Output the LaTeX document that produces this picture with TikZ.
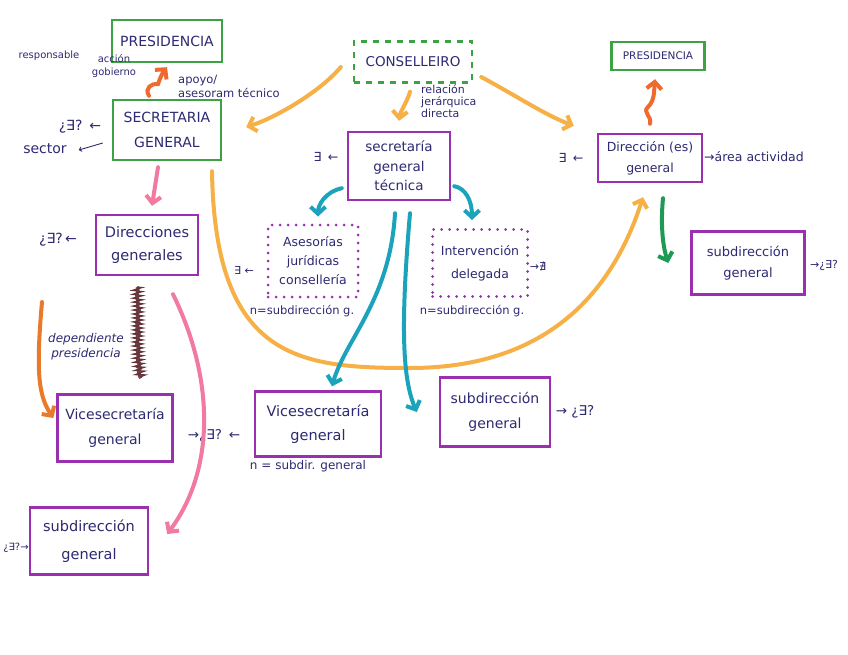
\documentclass[tikz,border=0pt]{standalone}
\usepackage{fontspec}
\setmainfont{DejaVu Sans}
\usetikzlibrary{arrows.meta,decorations.pathmorphing}
\definecolor{ink}{HTML}{2E2A72}
\definecolor{purp}{HTML}{9A2FB0}
\definecolor{grn}{HTML}{3DA244}
\definecolor{orng}{HTML}{F6B045}
\definecolor{redor}{HTML}{EE6A2E}
\definecolor{dorng}{HTML}{E97A2C}
\definecolor{pinkc}{HTML}{F27AA0}
\definecolor{tealc}{HTML}{1BA3BC}
\definecolor{dgrn}{HTML}{1E9A55}
\definecolor{brwn}{HTML}{7A4148}
\begin{document}
\begin{tikzpicture}[x=1pt,y=-1pt,
  box/.style={rectangle, draw, line width=2.4pt, align=center, text=ink, inner sep=0pt},
  pbox/.style={box, draw=purp},
  gbox/.style={box, draw=grn},
  dotbox/.style={box, draw=purp, line width=3pt, line cap=round, dash pattern=on 0pt off 8pt},
  dashbox/.style={box, draw=grn, line width=2.4pt, dash pattern=on 6pt off 6pt},
  lbl/.style={text=ink, align=center, inner sep=0pt, font=\fontsize{10}{12}\selectfont},
  conn/.style={line width=4pt, line cap=round, -{Straight Barb[length=7pt,width=15pt]}},
  thinarr/.style={ink, line width=0.9pt, -{To[length=3pt,width=5pt]}}
]
\useasboundingbox[fill=white] (0,0) rectangle (848,655);

% ---------- boxes ----------
\node[gbox, minimum width=110pt, minimum height=42pt, font=\fontsize{14}{16}\selectfont] (presL) at (167,41) {PRESIDENCIA};
\node[gbox, minimum width=108pt, minimum height=60pt, font=\fontsize{14}{25}\selectfont] (secG) at (167,130) {SECRETARIA\\GENERAL};
\node[dashbox, minimum width=118pt, minimum height=41pt, font=\fontsize{13.5}{15}\selectfont] (cons) at (413,62) {CONSELLEIRO};
\node[pbox, minimum width=102pt, minimum height=68pt, font=\fontsize{13.5}{19.5}\selectfont] (sgt) at (399,166) {secretaría\\general\\técnica};
\node[gbox, minimum width=93pt, minimum height=28pt, font=\fontsize{10.5}{12}\selectfont] (presR) at (658,56) {PRESIDENCIA};
\node[pbox, minimum width=104pt, minimum height=48pt, font=\fontsize{12.5}{21}\selectfont] (dirG) at (650,158) {Dirección (es)\\general};
\node[pbox, minimum width=113pt, minimum height=63pt, font=\fontsize{13}{21}\selectfont] (subR) at (748,263) {subdirección\\general};
\node[dotbox, minimum width=90pt, minimum height=72pt, font=\fontsize{12.5}{19}\selectfont] (ases) at (313,261) {Asesorías\\jurídicas\\consellería};
\node[dotbox, minimum width=95pt, minimum height=67pt, font=\fontsize{12.5}{23}\selectfont] (interv) at (480,263) {Intervención\\delegada};
\node[pbox, minimum width=102pt, minimum height=60pt, font=\fontsize{14.5}{23}\selectfont] (dirsG) at (147,245) {Direcciones\\generales};
\node[pbox, minimum width=115pt, minimum height=67pt, font=\fontsize{14}{25}\selectfont] (viceL) at (115,428) {Vicesecretaría\\general};
\node[pbox, minimum width=126pt, minimum height=65pt, font=\fontsize{14.5}{24}\selectfont] (viceM) at (318,424) {Vicesecretaría\\general};
\node[pbox, minimum width=110pt, minimum height=69pt, font=\fontsize{14}{25}\selectfont] (subM) at (495,412) {subdirección\\general};
\node[pbox, minimum width=118pt, minimum height=67pt, font=\fontsize{14.5}{28}\selectfont] (subBL) at (89,541) {subdirección\\general};

% ---------- labels ----------
\node[lbl, font=\fontsize{10}{12}\selectfont] (resp) at (49,56) {responsable};
\node[lbl, font=\fontsize{10}{13}\selectfont] (accion) at (114,66) {acción\\gobierno};
\node[lbl, font=\fontsize{11.5}{14}\selectfont, align=left, anchor=west] (apoyo) at (178,86) {apoyo/\\asesoram técnico};
\node[lbl, font=\fontsize{14}{16}\selectfont] (ex1) at (80,127) {¿∃?\enspace←};
\node[lbl, font=\fontsize{14}{16}\selectfont] (sector) at (45,149) {sector};
\node[lbl, font=\fontsize{11}{12}\selectfont, align=left, anchor=west] (rel) at (421,101) {relación\\jerárquica\\directa};
\node[lbl, font=\fontsize{12.5}{14}\selectfont] (ex2) at (326,157) {∃\enspace←};
\node[lbl, font=\fontsize{12.5}{14}\selectfont] (ex3) at (571,158) {∃\enspace←};
\node[lbl, font=\fontsize{12.5}{14}\selectfont, anchor=west] (area) at (704,157) {→área actividad};
\node[lbl, font=\fontsize{14}{16}\selectfont] (ex4) at (58,240) {¿∃?\,←};
\node[lbl, font=\fontsize{11}{12}\selectfont] (ex5) at (244,270) {∃ ←};
\node[lbl, font=\fontsize{11}{12}\selectfont] (ex6) at (538,266) {→∄};
\node[lbl, font=\fontsize{11.5}{13}\selectfont] (n1) at (302,311) {n=subdirección g.};
\node[lbl, font=\fontsize{11.5}{13}\selectfont] (n2) at (472,311) {n=subdirección g.};
\node[lbl, font=\itshape\fontsize{12}{15}\selectfont] (dep) at (86,347) {dependiente\\presidencia};
\node[lbl, font=\fontsize{13.5}{15}\selectfont] (ex7) at (214,436) {→¿∃?\enspace←};
\node[lbl, font=\fontsize{12}{14}\selectfont] (n3) at (308,466) {n = subdir. general};
\node[lbl, font=\fontsize{13.5}{15}\selectfont] (ex8) at (575,412) {→ ¿∃?};
\node[lbl, font=\fontsize{11}{13}\selectfont] (ex9) at (824,265) {→¿∃?};
\node[lbl, font=\fontsize{10}{12}\selectfont] (ex10) at (16,548) {¿∃?→};

\draw[thinarr] ([xshift=-9pt,yshift=-13pt]secG.west) -- ([xshift=12pt,yshift=-1pt]sector.east);

% ---------- connectors ----------
% Conselleiro
\draw[conn, orng] ([xshift=-12pt,yshift=-5pt]cons.west) .. controls (320,92) and (275,118) .. ([xshift=24pt,yshift=3pt]secG.east);
\draw[conn, orng] ([xshift=-3pt,yshift=-8pt]cons.south) .. controls (408,100) and (400,112) .. ([yshift=10pt]sgt.north);
\draw[conn, orng] ([xshift=8pt,yshift=-15pt]cons.east) .. controls (515,95) and (545,115) .. ([xshift=-23pt,yshift=7pt]dirG.north west);

% presidencia links
\draw[conn, redor] ([xshift=-18pt,yshift=3pt]secG.north) .. controls (144,88) and (152,83) .. (158,84) .. controls (160,78) and (163,72) .. ([yshift=-4pt]presL.south);
\draw[conn, redor] ([yshift=9pt]dirG.north) .. controls (652,116) and (642,112) .. (648,107) .. controls (655,100) and (654,90) .. ([xshift=-3pt,yshift=-8pt]presR.south);

% pink
\draw[conn, pinkc] ([xshift=-9pt,yshift=-6pt]secG.south) -- ([xshift=5pt,yshift=8pt]dirsG.north);
\draw[conn, pinkc] ([xshift=26pt,yshift=-18pt]dirsG.south) .. controls (215,380) and (215,470) .. ([xshift=18pt,yshift=7pt]subBL.east);

% dark orange
\coordinate (depstart) at (42,302);
\draw[conn, dorng] (depstart) .. controls (36,370) and (38,395) .. ([xshift=-3pt,yshift=10pt]viceL.west);

% crossed-out scribble
\coordinate (scrA) at (137,287);
\coordinate (scrB) at (141,378);
\draw[brwn, line width=3.5pt, decorate, decoration={random steps, segment length=2pt, amplitude=1pt}] (scrA) .. controls (140,320) and (135,350) .. (scrB);
\draw[brwn!80!black, line width=1.2pt, decorate, decoration={zigzag, segment length=4pt, amplitude=5pt}] (scrA) .. controls (140,320) and (135,350) .. (scrB);

% long light orange
\draw[conn, orng] ([xshift=45pt,yshift=-10pt]secG.south) .. controls (215,360) and (300,368) .. (410,368) .. controls (540,368) and (610,300) .. ([xshift=-7pt,yshift=-14pt]dirG.south);

% teal
\draw[conn, tealc] ([xshift=-5pt,yshift=13pt]sgt.south west) .. controls (325,192) and (318,205) .. ([xshift=5pt,yshift=7pt]ases.north);
\draw[conn, tealc] ([xshift=3pt,yshift=15pt]sgt.south east) .. controls (465,188) and (472,200) .. ([xshift=-8pt,yshift=8pt]interv.north);
\draw[conn, tealc] ([xshift=-4pt,yshift=-12pt]sgt.south) .. controls (390,300) and (345,340) .. ([xshift=14pt,yshift=4pt]viceM.north);
\draw[conn, tealc] ([xshift=11pt,yshift=-12pt]sgt.south) .. controls (400,330) and (403,380) .. ([xshift=-22pt]subM.west);

% green
\draw[conn, dgrn] ([xshift=13pt,yshift=-15pt]dirG.south) .. controls (660,230) and (664,250) .. ([xshift=-22pt]subR.west);
\end{tikzpicture}
\end{document}
